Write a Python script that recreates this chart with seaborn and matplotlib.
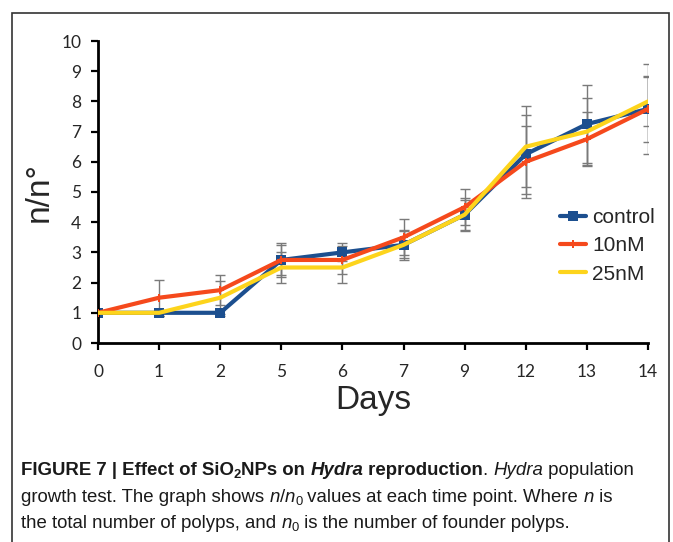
import numpy as np
import pandas as pd
import seaborn as sns
import matplotlib.pyplot as plt
from matplotlib.patches import Rectangle

# data
days = ['0', '1', '2', '5', '6', '7', '9', '12', '13', '14']
control = [1, 1, 1, 2.75, 3.0, 3.25, 4.25, 6.25, 7.25, 7.75]
nm10 = [1, 1.5, 1.75, 2.75, 2.75, 3.5, 4.5, 6.0, 6.75, 7.75]
nm25 = [1, 1, 1.5, 2.5, 2.5, 3.25, 4.25, 6.5, 7.0, 8.0]
err_control = [0, 0.1, 0.1, 0.5, 0.3, 0.5, 0.55, 1.3, 1.3, 1.5]
err_10 = [0, 0.6, 0.5, 0.55, 0.45, 0.6, 0.6, 1.2, 0.9, 1.1]
err_25 = [0, 0.1, 0.55, 0.5, 0.5, 0.45, 0.5, 1.35, 1.1, 0.8]

series = ['control', '10nM', '25nM']
colors = {'control': '#1c4f8f', '10nM': '#f5491c', '25nM': '#fdd41c'}
markers = {'control': 's', '10nM': 'P', '25nM': ''}

pos = np.arange(len(days))
df = pd.DataFrame({
    'pos': np.tile(pos, 3),
    'value': control + nm10 + nm25,
    'err': err_control + err_10 + err_25,
    'group': np.repeat(series, len(days)),
})

sns.set_style('white')
plt.rcParams['font.family'] = ['Liberation Sans', 'DejaVu Sans']

fig = plt.figure(figsize=(6.73, 5.42), dpi=100)
ax = fig.add_axes([98 / 673, 1 - 343 / 542, 550 / 673, 302 / 542])

# error bars behind the lines
for g in series:
    sub = df[df['group'] == g]
    ax.errorbar(sub['pos'], sub['value'], yerr=sub['err'], fmt='none',
                ecolor='#7a7a7a', elinewidth=1, capsize=3.5, capthick=1, zorder=1)

for i, g in enumerate(series):
    sub = df[df['group'] == g]
    sns.lineplot(data=sub, x='pos', y='value', ax=ax, color=colors[g], lw=3,
                 marker=markers[g] if markers[g] else None, markersize=7 if g == 'control' else 6,
                 markeredgewidth=0, label=g, zorder=2 + i)

ax.set_xlim(0, 9)
ax.set_ylim(0, 10)
ax.set_xticks(pos)
ax.set_xticklabels(days)
ax.set_yticks(range(0, 11))
for s in ['top', 'right']:
    ax.spines[s].set_visible(False)
for s in ['left', 'bottom']:
    ax.spines[s].set_color('black')
    ax.spines[s].set_linewidth(2)
ax.tick_params(axis='both', which='major', direction='out', length=5, width=1.6,
               color='black', labelsize=12.5, left=True, bottom=True)
ax.tick_params(axis='x', pad=10)
ax.tick_params(axis='y', pad=7)
for lab in ax.get_xticklabels() + ax.get_yticklabels():
    lab.set_fontfamily(['Lato', 'DejaVu Sans'])

ax.set_xlabel('Days', fontsize=24, labelpad=4)
ax.set_ylabel('n/n°', fontsize=24, labelpad=5)

leg = ax.legend(loc='upper left', bbox_to_anchor=(0.825, 0.475), frameon=False,
                fontsize=15, handlelength=1.25, handletextpad=0.3, labelspacing=0.45,
                borderaxespad=0)

# outer frame of the figure panel
fig.patches.append(Rectangle((12 / 673, -0.1), 657 / 673, 1.1 - 13 / 542,
                             transform=fig.transFigure, fill=False,
                             edgecolor='#333333', linewidth=1.2))

# caption with mixed styles, placed piece by piece
renderer = fig.canvas.get_renderer()
fs = 13.4
lines = [
    [('FIGURE 7 | Effect of SiO', 'bold', 'normal', 0), ('2', 'bold', 'normal', -1),
     ('NPs on ', 'bold', 'normal', 0), ('Hydra', 'bold', 'italic', 0),
     (' reproduction', 'bold', 'normal', 0), ('. ', 'normal', 'normal', 0),
     ('Hydra', 'normal', 'italic', 0), (' population', 'normal', 'normal', 0)],
    [('growth test. The graph shows ', 'normal', 'normal', 0), ('n', 'normal', 'italic', 0),
     ('/', 'normal', 'normal', 0), ('n', 'normal', 'italic', 0), ('0', 'normal', 'normal', -1),
     (' values at each time point. Where ', 'normal', 'normal', 0), ('n', 'normal', 'italic', 0),
     (' is', 'normal', 'normal', 0)],
    [('the total number of polyps, and ', 'normal', 'normal', 0), ('n', 'normal', 'italic', 0),
     ('0', 'normal', 'normal', -1), (' is the number of founder polyps.', 'normal', 'normal', 0)],
]
baselines = [475, 502, 528]
for segs, yb in zip(lines, baselines):
    x = 21
    for txt, w, st, sub in segs:
        size = fs * 0.7 if sub else fs
        yy = yb + (3 if sub else 0)
        t = fig.text(x / 673, 1 - yy / 542, txt, fontsize=size, fontweight=w,
                     fontstyle=st, va='baseline', ha='left', color='#1a1a1a')
        bb = t.get_window_extent(renderer=renderer)
        x += bb.width

fig.savefig('out.png', dpi=100)
